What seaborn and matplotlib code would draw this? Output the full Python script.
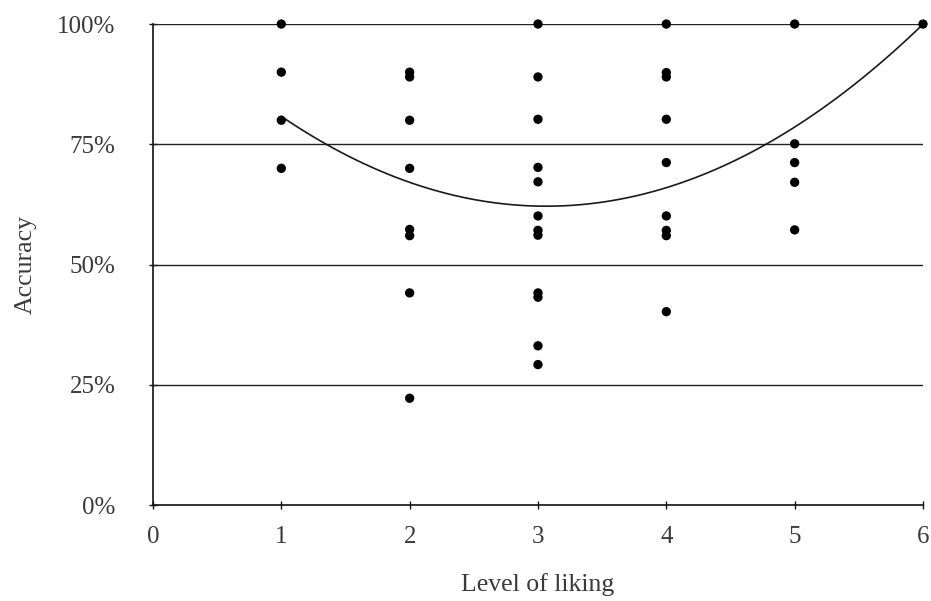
import numpy as np
import pandas as pd
import matplotlib
matplotlib.use("Agg")
import matplotlib.pyplot as plt
import seaborn as sns
from matplotlib.ticker import FuncFormatter

liking_1 = [1, 1, 1, 1]
acc_1 = [100, 90, 80, 70]
liking_2 = [2] * 8
acc_2 = [90, 89, 80, 70, 57.3, 56, 44.1, 22.2]
liking_3 = [3] * 12
acc_3 = [100, 89, 80.2, 70.2, 67.2, 60.1, 57.1, 56.1, 44.1, 43.2, 33.1, 29.2]
liking_4 = [4] * 9
acc_4 = [100, 89.9, 89, 80.2, 71.2, 60.1, 57.1, 56, 40.2]
liking_5 = [5] * 5
acc_5 = [100, 75.1, 71.2, 67.1, 57.2]
liking_6 = [6]
acc_6 = [100]

x_ticks = [0, 1, 2, 3, 4, 5, 6]
y_ticks = [0, 25, 50, 75, 100]

df = pd.DataFrame({
    "liking": liking_1 + liking_2 + liking_3 + liking_4 + liking_5 + liking_6,
    "accuracy": acc_1 + acc_2 + acc_3 + acc_4 + acc_5 + acc_6,
})

sns.set_style("white")
plt.rcParams["font.family"] = ["Liberation Serif", "DejaVu Serif"]

fig = plt.figure(figsize=(9.31, 6.01), dpi=100)
ax = fig.add_axes([0.1643, 0.1597, 0.9914 - 0.1643, 0.960 - 0.1597])

for y in y_ticks[1:]:
    ax.axhline(y, color="#222222", lw=1.0, zorder=1)

sns.regplot(data=df, x="liking", y="accuracy", order=2, ci=None, scatter=False,
            line_kws=dict(color="#1a1a1a", lw=1.2), ax=ax)
sns.scatterplot(data=df, x="liking", y="accuracy", color="black", s=45,
                edgecolor="none", ax=ax, zorder=3, clip_on=False)

ax.set_xlim(0, 6)
ax.set_ylim(0, 100)
ax.set_xticks(x_ticks)
ax.set_yticks(y_ticks)
ax.yaxis.set_major_formatter(FuncFormatter(lambda v, p: f"{int(v)}%"))
for s in ["top", "right"]:
    ax.spines[s].set_visible(False)
for s in ["left", "bottom"]:
    ax.spines[s].set_color("#111111")
    ax.spines[s].set_linewidth(1.2)
ax.tick_params(axis="both", bottom=True, left=True, direction="inout", length=6,
               width=1.0, color="#111111", labelsize=18, labelcolor="#3a3a3a")
ax.tick_params(axis="x", pad=12)
ax.tick_params(axis="y", pad=24)
ax.set_xlabel("Level of liking", fontsize=18.5, color="#3a3a3a", labelpad=18)
ax.set_ylabel("Accuracy", fontsize=18.5, color="#3a3a3a", labelpad=15)

fig.savefig("out.png", dpi=100)
